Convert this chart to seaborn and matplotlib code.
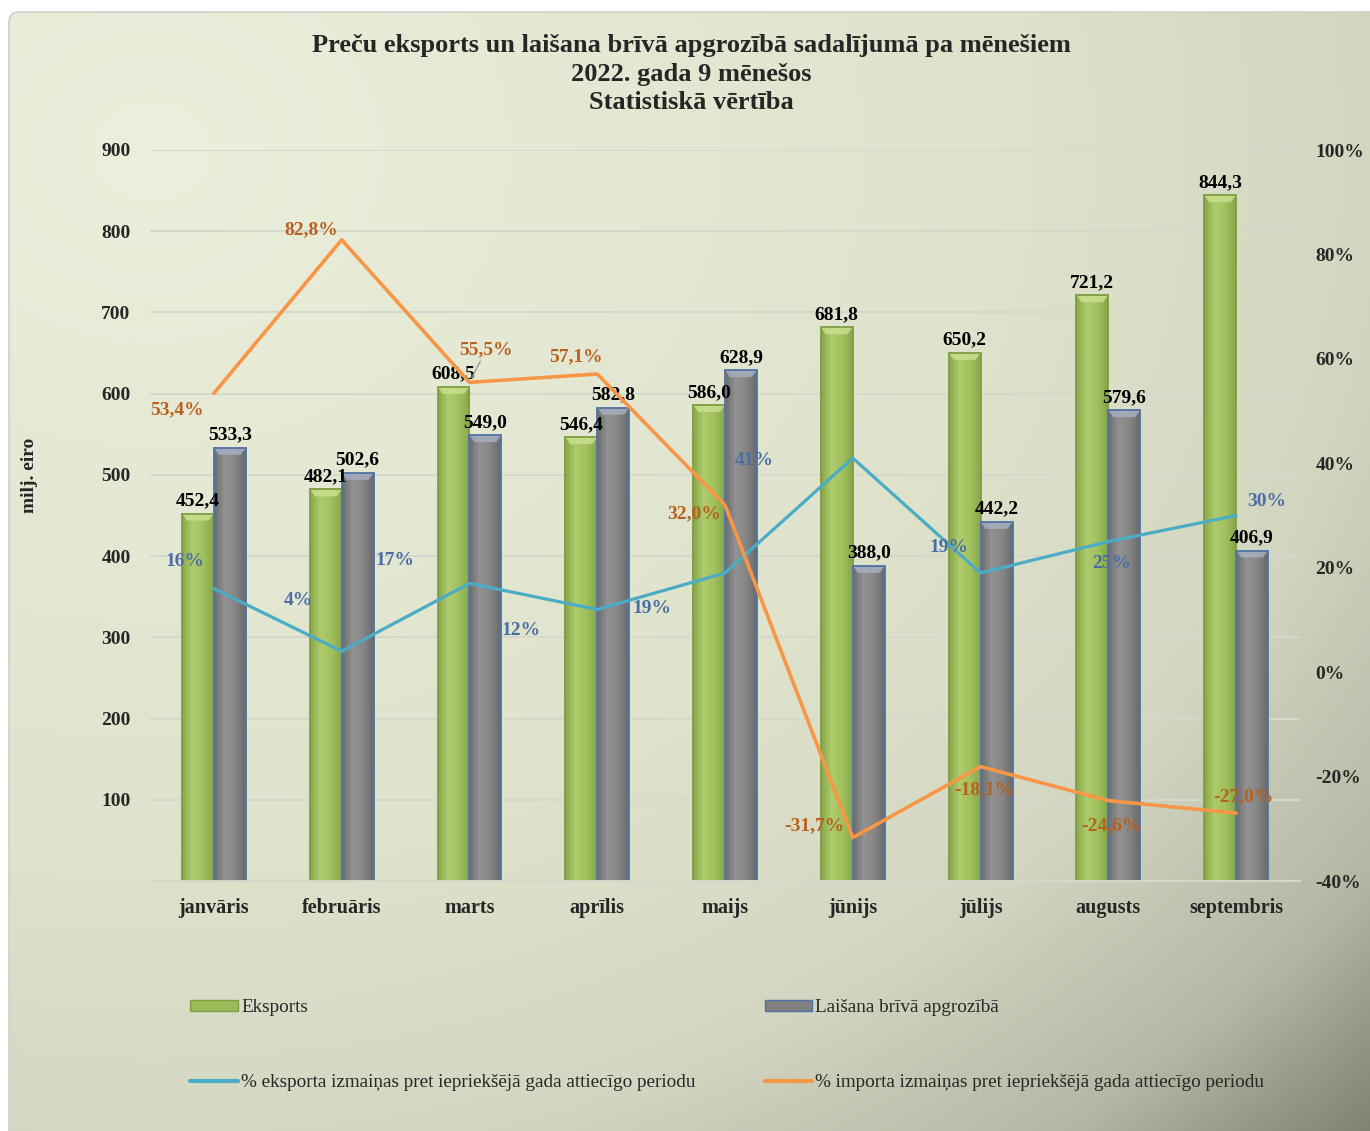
import numpy as np
import pandas as pd
import matplotlib.pyplot as plt
import matplotlib.patches as mpatches
from matplotlib.lines import Line2D
from matplotlib.colors import LinearSegmentedColormap
import seaborn as sns


months = ['janvāris', 'februāris', 'marts', 'aprīlis', 'maijs',
          'jūnijs', 'jūlijs', 'augusts', 'septembris']
eksports = [452.4, 482.1, 608.5, 546.4, 586.0, 681.8, 650.2, 721.2, 844.3]
laisana = [533.3, 502.6, 549.0, 582.8, 628.9, 388.0, 442.2, 579.6, 406.9]
eksp_change = [16, 4, 17, 12, 19, 41, 19, 25, 30]
imp_change = [53.4, 82.8, 55.5, 57.1, 32.0, -31.7, -18.1, -24.6, -27.0]

bar_names = ['Eksports', 'Laišana brīvā apgrozībā']
line_names = ['% eksporta izmaiņas pret iepriekšējā gada attiecīgo periodu',
              '% importa izmaiņas pret iepriekšējā gada attiecīgo periodu']
title = ('Preču eksports un laišana brīvā apgrozībā sadalījumā pa mēnešiem\n'
         '2022. gada 9 mēnešos\nStatistiskā vērtība')

# label offsets in pixels (hand placed like in the original)
blue_off = [(-29, 27), (-43, 51), (-75, 23), (-76, -21), (-73, -36),
            (-99, -2), (-32, 25), (3, -22), (31, 14)]
orange_off = [(-37, -16), (-30, 10), (17, 33), (-21, 17), (-31, -9),
              (-38, 12), (4, -23), (3, -25), (7, 16)]

green = '#9BBB59'
grey = '#808080'
blue_line = '#4BACC6'
orange_line = '#F79646'
blue_txt = '#4A6FA5'
orange_txt = '#B8601E'

sns.set_theme(style='white')
plt.rcParams['font.family'] = ['Liberation Serif', 'DejaVu Serif']

fig = plt.figure(figsize=(13.7, 11.31), dpi=100)
fig.patch.set_facecolor('white')

# background gradient
bg = fig.add_axes([0, 0, 1, 1], zorder=-5)
bg.set_xlim(0, 1370)
bg.set_ylim(1131, 0)
bg.axis('off')
yy, xx = np.mgrid[0:1131:3, 0:1370:3]
d = np.hypot((xx - 150) / 1370, (yy - 150) / 1131) / np.hypot(1220 / 1370, 981 / 1131)
d = np.clip(d, 0, 1)
bg_cmap = LinearSegmentedColormap.from_list(
    'bg', [(0, '#EBEFDB'), (0.5, '#DFE3CC'), (0.72, '#D3D7C1'),
           (0.88, '#B3B7A4'), (1.0, '#7E8372')])
frame = mpatches.FancyBboxPatch((9, 12), 1400, 1150, boxstyle='round,pad=0,rounding_size=10',
                                facecolor='none', edgecolor='#CFCFCF', lw=1.2)
bg.add_patch(frame)
im = bg.imshow(d, cmap=bg_cmap, vmin=0, vmax=1, extent=[0, 1370, 1131, 0], aspect='auto')
im.set_clip_path(frame)

ax = fig.add_axes([150 / 1370, 1 - 881 / 1131, 1150 / 1370, 731 / 1131])
ax.set_facecolor('none')

df = pd.DataFrame({
    'month': months * 2,
    'value': eksports + laisana,
    'series': [bar_names[0]] * 9 + [bar_names[1]] * 9,
})
sns.barplot(data=df, x='month', y='value', hue='series', palette=[green, grey],
            width=0.5, gap=0, saturation=1, legend=False, ax=ax)

ax.set_xlim(-0.5, 8.5)
ax.set_ylim(0, 900)

# shaded 3d-ish bars
bar_cmaps = [
    LinearSegmentedColormap.from_list('g', ['#88A74A', '#AFCC6E', '#A2C15E', '#87A649']),
    LinearSegmentedColormap.from_list('k', ['#6C6C6C', '#929292', '#868686', '#6A6A6A']),
]
edge_cols = ['#7F9D42', '#4F73A8']
bevel_cols = ['#C9DF8E', '#A6AFBF']
profile = np.linspace(0, 1, 64)[None, :]
px_per_unit = 731 / 900
for k, cont in enumerate(ax.containers):
    for p in cont.patches:
        x0, w, h = p.get_x(), p.get_width(), p.get_height()
        img = ax.imshow(profile, cmap=bar_cmaps[k], extent=[x0, x0 + w, 0, h],
                        aspect='auto', zorder=1.5)
        img.set_clip_path(p)
        p.set_facecolor('none')
        p.set_edgecolor(edge_cols[k])
        p.set_linewidth(1.3)
        p.set_zorder(2)
        b = 7 / px_per_unit
        ins = w * 0.16
        bev = mpatches.Polygon([(x0, h), (x0 + w, h), (x0 + w - ins, h - b), (x0 + ins, h - b)],
                               closed=True, facecolor=bevel_cols[k], edgecolor='none',
                               alpha=0.85, zorder=1.8)
        ax.add_patch(bev)
    labels = [f'{v:.1f}'.replace('.', ',') for v in cont.datavalues]
    ax.bar_label(cont, labels=labels, padding=3, fontsize=14, fontweight='bold', color='black')

ax.set_xlim(-0.5, 8.5)
ax.set_ylim(0, 900)
ax.set_yticks(range(100, 1000, 100))
ax.yaxis.grid(True, color='#D5D8CB', lw=1.4)
ax.set_axisbelow(True)
for s in ['top', 'right', 'left']:
    ax.spines[s].set_visible(False)
ax.spines['bottom'].set_color('#D5D8CB')
ax.spines['bottom'].set_linewidth(1.4)
ax.set_xlabel('')
ax.set_ylabel('')
ax.tick_params(axis='both', length=0)
ax.tick_params(axis='y', pad=14, labelsize=14)
ax.tick_params(axis='x', pad=12, labelsize=14.5)
for t in ax.get_xticklabels() + ax.get_yticklabels():
    t.set_fontweight('bold')

ax2 = ax.twinx()
x_pos = np.arange(len(months))
sns.lineplot(x=x_pos, y=eksp_change, ax=ax2, color=blue_line, lw=2.3)
sns.lineplot(x=x_pos, y=imp_change, ax=ax2, color=orange_line, lw=2.6)
ax2.set_ylim(-40, 100)
ax2.set_xlim(-0.5, 8.5)
ax2.set_yticks(range(-40, 101, 20))
ax2.set_yticklabels([f'{v}%' for v in range(-40, 101, 20)])
ax2.tick_params(axis='y', length=0, pad=11, labelsize=14)
for t in ax2.get_yticklabels():
    t.set_fontweight('bold')
for s in ax2.spines.values():
    s.set_visible(False)
ax2.set_ylabel('')
ax2.grid(False)

for i, v in enumerate(eksp_change):
    ax2.annotate(f'{v}%', (i, v), xytext=blue_off[i], textcoords='offset pixels',
                 ha='center', va='center', fontsize=14, fontweight='bold', color=blue_txt)
for i, v in enumerate(imp_change):
    arrow = dict(arrowstyle='-', color='#9A9A9A', lw=1, shrinkA=0, shrinkB=4) if i == 2 else None
    ax2.annotate(f'{v:.1f}%'.replace('.', ','), (i, v), xytext=orange_off[i],
                 textcoords='offset pixels', ha='center', va='center', fontsize=14,
                 fontweight='bold', color=orange_txt, arrowprops=arrow)

fig.text(691 / 1370, 1 - 74 / 1131, title, ha='center', va='center', fontsize=19,
         fontweight='bold', linespacing=1.3)
fig.text(30 / 1370, 1 - 475 / 1131, 'milj. eiro', rotation=90, ha='center', va='center',
         fontsize=14, fontweight='bold')

handles = [
    mpatches.Patch(facecolor=green, edgecolor=edge_cols[0]),
    Line2D([], [], color=blue_line, lw=3),
    mpatches.Patch(facecolor=grey, edgecolor=edge_cols[1]),
    Line2D([], [], color=orange_line, lw=3),
]
labels = [bar_names[0], line_names[0], bar_names[1], line_names[1]]
fig.legend(handles, labels, ncol=2, loc='upper left', bbox_to_anchor=(173 / 1370, 1 - 982 / 1131),
           frameon=False, fontsize=13.8, handlelength=2.5, handleheight=0.5, handletextpad=0.15,
           labelspacing=3.0, columnspacing=3.6)

fig.savefig('out.png', dpi=100)
